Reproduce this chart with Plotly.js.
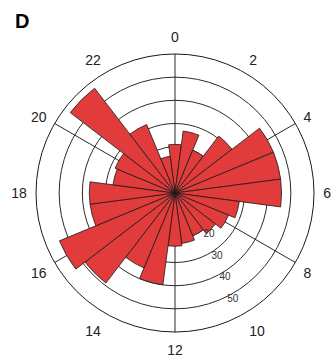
<!DOCTYPE html>
<html>
<head>
<meta charset="utf-8">
<script src="https://cdn.plot.ly/plotly-3.0.1.min.js"></script>
<style>
  html, body { margin: 0; padding: 0; background: #ffffff; }
  #chart { width: 336px; height: 362px; }
</style>
</head>
<body>
<div id="chart"></div>
<script>
// Hour of day (bars centred on each hour)
const hours = [0, 1, 2, 3, 4, 5, 6, 7, 8, 9, 10, 11, 12, 13, 14, 15, 16, 17, 18, 19, 20, 21, 22, 23];
// Bar lengths
const counts = [21, 27, 20, 31, 46, 46, 46, 28, 25, 22, 20, 22, 23, 40, 35, 49, 54, 37, 37, 27, 28, 57, 32, 16];
// Angular tick labels (every 2 h) and grid spokes (every 4 h)
const labelHours = [0, 2, 4, 6, 8, 10, 12, 14, 16, 18, 20, 22];
const hourLabels = ['0', '2', '4', '6', '8', '10', '12', '14', '16', '18', '20', '22'];
const gridHours = [0, 4, 8, 12, 16, 20];
// Radial scale
const gridRings = [10, 20, 30, 40, 50];
const radialTicks = [20, 30, 40, 50];
const radialLabels = ['20', '30', '40', '50'];
const radialMax = 60;

const DEG_PER_HOUR = 360 / 24;
const toDeg = h => h * DEG_PER_HOUR;

const W = 336, H = 362;
const cx = 175, cy = 193, R = 139;
const dom = {
  x: [(cx - R) / W, (cx + R) / W],
  y: [(H - cy - R) / H, (H - cy + R) / H]
};

const font = 'Liberation Sans, Arial, Helvetica, sans-serif';
const RADIAL_ANGLE = -70;

// invisible carrier so the background grid subplot is drawn
const gridCarrier = {
  type: 'scatterpolar',
  subplot: 'polar',
  r: counts,
  theta: hours.map(toDeg),
  mode: 'markers',
  marker: { opacity: 0, size: 1 },
  hoverinfo: 'skip'
};

const bars = {
  type: 'barpolar',
  subplot: 'polar2',
  r: counts,
  theta: hours.map(toDeg),
  width: hours.map(() => DEG_PER_HOUR),
  marker: { color: '#e23b3b', line: { color: '#1a1a1a', width: 0.8 } },
  hoverinfo: 'skip'
};

const layout = {
  width: W, height: H,
  margin: { l: 0, r: 0, t: 0, b: 0 },
  paper_bgcolor: '#ffffff',
  showlegend: false,
  title: {
    text: '<b>D</b>',
    font: { family: font, size: 20, color: '#000000' },
    x: 15 / W, xanchor: 'left',
    y: 1 - 21 / H, yanchor: 'middle'
  },
  polar: {
    domain: dom,
    bgcolor: '#ffffff',
    angularaxis: {
      rotation: 90, direction: 'clockwise', thetaunit: 'degrees',
      tickmode: 'array', tickvals: gridHours.map(toDeg),
      showticklabels: false, ticks: '',
      showgrid: true, gridcolor: '#2a2a2a', gridwidth: 1,
      showline: true, linecolor: '#1a1a1a', linewidth: 1
    },
    radialaxis: {
      range: [0, radialMax],
      tickmode: 'array', tickvals: gridRings,
      showticklabels: false, ticks: '',
      showgrid: true, gridcolor: '#2a2a2a', gridwidth: 1,
      showline: false
    }
  },
  polar2: {
    domain: dom,
    bgcolor: 'rgba(0,0,0,0)',
    angularaxis: {
      rotation: 90, direction: 'clockwise', thetaunit: 'degrees',
      tickmode: 'array', tickvals: labelHours.map(toDeg), ticktext: hourLabels,
      tickfont: { family: font, size: 14, color: '#222222' },
      ticks: 'outside', ticklen: 6, tickcolor: 'rgba(0,0,0,0)',
      showgrid: false, showline: false
    },
    radialaxis: {
      range: [0, radialMax],
      angle: RADIAL_ANGLE, side: 'counterclockwise', tickangle: RADIAL_ANGLE,
      tickmode: 'array', tickvals: radialTicks, ticktext: radialLabels,
      tickfont: { family: font, size: 10, color: '#333333' },
      ticks: 'outside', ticklen: 4, tickcolor: 'rgba(0,0,0,0)',
      showgrid: false, showline: false
    }
  }
};

Plotly.newPlot('chart', [gridCarrier, bars], layout, { staticPlot: true, displayModeBar: false });
</script>
</body>
</html>
